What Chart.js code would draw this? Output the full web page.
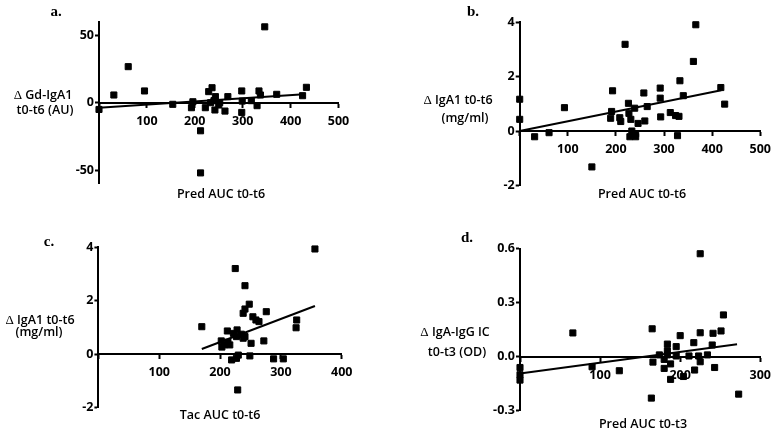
<!DOCTYPE html>
<html>
<head>
<meta charset="utf-8">
<script src="https://cdn.jsdelivr.net/npm/chart.js@4.4.0/dist/chart.umd.min.js"></script>
<style>
  body { margin: 0; background: #fff; }
  #wrap { position: relative; width: 778px; height: 433px; overflow: hidden; background: #fff; }
  canvas { position: absolute; left: 0; top: 0; }
  .lbl { position: absolute; transform: translate(-50%, -50%); font-family: "Liberation Serif", serif; font-weight: bold; font-size: 15px; color: #000; }
  .ttl { position: absolute; transform: translate(-50%, -50%); font-family: "Open Sans", sans-serif; font-weight: 600; font-size: 12.5px; color: #000; white-space: nowrap; line-height: 1; }
  .ttl span { font-family: "Liberation Serif", serif; font-weight: normal; font-size: 13px; }
</style>
</head>
<body>
<div id="wrap">
  <canvas id="ca" width="778" height="433"></canvas>
  <canvas id="cb" width="778" height="433"></canvas>
  <canvas id="cc" width="778" height="433"></canvas>
  <canvas id="cd" width="778" height="433"></canvas>

  <div class="lbl" style="left:56px;top:11px">a.</div>
  <div class="lbl" style="left:473px;top:11px">b.</div>
  <div class="lbl" style="left:49px;top:241px">c.</div>
  <div class="lbl" style="left:467px;top:237px">d.</div>

  <div class="ttl" style="left:43px;top:95px"><span>Δ</span> Gd-IgA1</div>
  <div class="ttl" style="left:45px;top:110px">t0-t6 (AU)</div>
  <div class="ttl" style="left:221px;top:194px">Pred AUC t0-t6</div>

  <div class="ttl" style="left:458px;top:100px"><span>Δ</span> IgA1 t0-t6</div>
  <div class="ttl" style="left:465px;top:118px">(mg/ml)</div>
  <div class="ttl" style="left:642px;top:194px">Pred AUC t0-t6</div>

  <div class="ttl" style="left:40px;top:320px"><span>Δ</span> IgA1 t0-t6</div>
  <div class="ttl" style="left:39px;top:332px">(mg/ml)</div>
  <div class="ttl" style="left:220px;top:415px">Tac AUC t0-t6</div>

  <div class="ttl" style="left:455px;top:332px"><span>Δ</span> IgA-IgG IC</div>
  <div class="ttl" style="left:457px;top:352px">t0-t3 (OD)</div>
  <div class="ttl" style="left:643px;top:424px">Pred AUC t0-t3</div>
</div>
<script>
// panel a: change in Gd-IgA1 vs prednisolone AUC
const predA = [0, 31, 61, 95, 154, 193, 196, 212, 212, 222, 229, 233, 236, 240, 242, 243, 250, 252, 263, 269, 298, 298, 299, 318, 330, 334, 337, 346, 371, 425, 433];
const gdIgA1 = [-5, 5.7, 26.7, 8.7, -1.2, -3.7, 0.7, -20.8, -52, -3.7, 8.2, 0, 11.1, 1.5, -5.4, 4.5, -1.7, 0, -6.2, 4.5, 8.7, -7.2, 1.2, 1.5, -2.2, 8.7, 5.7, 56.2, 6.2, 5.2, 11.4];
const fitAx = [0, 420];
const fitAy = [-3.7, 6];

// panel b: change in IgA1 vs prednisolone AUC
const predB = [0, 0, 31, 61, 93, 150, 189, 191, 193, 208, 210, 219, 226, 227, 229, 231, 233, 239, 241, 241, 246, 258, 260, 265, 292, 292, 293, 313, 324, 328, 331, 333, 340, 361, 366, 418, 426];
const igA1B = [1.17, 0.43, -0.21, -0.06, 0.86, -1.32, 0.47, 0.72, 1.48, 0.49, 0.35, 3.19, 1.02, 0.65, -0.21, 0.43, 0.0, 0.84, -0.21, -0.1, 0.28, 1.40, 0.37, 0.9, 1.58, 1.21, 0.52, 0.68, 0.57, -0.17, 0.54, 1.85, 1.30, 2.56, 3.91, 1.6, 0.99];
const fitBx = [0, 419];
const fitBy = [0, 1.5];

// panel c: change in IgA1 vs tacrolimus AUC
const tacC = [170, 202, 203, 207, 212, 213, 216, 219, 222, 225, 227, 227, 228, 229, 230, 235, 238, 238, 241, 241, 241, 248, 249, 251, 254, 259, 264, 272, 276, 288, 304, 325, 326, 356];
const igA1C = [1.03, 0.5, 0.27, 0.35, 0.87, 0.45, 0.35, -0.21, 0.78, 3.2, 0.66, -0.15, 0.91, -1.33, -0.03, 0.75, 1.53, 0.6, 2.56, 1.69, 0.66, 1.87, -0.06, 0.41, 1.40, 1.28, 1.22, 0.5, 1.59, -0.17, -0.17, 0.99, 1.28, 3.93];
const fitCx = [170, 356];
const fitCy = [0.2, 1.8];

// panel d: change in IgA-IgG IC vs prednisolone AUC t0-t3
const predD = [0, 0, 0, 66, 90, 124, 164, 165, 166, 174, 180, 180, 184, 184, 184, 188, 188, 195, 195, 200, 204, 211, 217, 218, 223, 225, 225, 225, 234, 240, 241, 243, 251, 254, 273];
const icD = [-0.06, -0.10, -0.13, 0.132, -0.056, -0.078, -0.23, 0.155, -0.03, 0.01, -0.015, -0.065, 0.07, 0.033, 0.01, -0.04, -0.126, 0.056, 0.004, 0.117, -0.11, 0.004, 0.078, -0.074, 0.004, 0.133, -0.028, 0.572, 0.01, 0.065, 0.13, -0.06, 0.143, 0.232, -0.208];
const fitDx = [0, 271];
const fitDy = [-0.093, 0.069];

const ticksX500 = [0, 100, 200, 300, 400, 500];
const ticksX400 = [0, 100, 200, 300, 400];
const ticksX300 = [0, 100, 200, 300];
const ticksYA = [-50, 0, 50];
const ticksYB = [-2, 0, 2, 4];
const ticksYD = [-0.3, 0, 0.3, 0.6];

const W = 778, H = 433, YW = 34;
const tickFont = { family: "Open Sans", weight: "bold", size: 12.5 };

const pairs = (xs, ys) => xs.map((x, i) => ({ x: x, y: ys[i] }));

function makePanel(id, o) {
  new Chart(document.getElementById(id), {
    type: "scatter",
    data: {
      datasets: [
        {
          data: pairs(o.xs, o.ys),
          pointStyle: "rect",
          pointRadius: 4.3,
          backgroundColor: "#000",
          borderColor: "#000",
          borderWidth: 1,
          clip: false,
        },
        {
          type: "line",
          data: pairs(o.fx, o.fy),
          showLine: true,
          borderColor: "#000",
          borderWidth: 2,
          pointRadius: 0,
          fill: false,
          clip: false,
        },
      ],
    },
    options: {
      responsive: false,
      animation: false,
      events: [],
      plugins: { legend: { display: false }, tooltip: { enabled: false } },
      layout: {
        padding: { left: o.l - YW, right: W - o.r, top: o.t, bottom: H - o.b },
      },
      scales: {
        x: {
          type: "linear",
          min: o.xmin, max: o.xmax,
          position: { y: 0 },
          afterFit: (s) => { s.height = 0; },
          afterBuildTicks: (s) => { s.ticks = o.xt.map((v) => ({ value: v })); },
          ticks: {
            callback: (v) => (v === 0 ? "" : v),
            font: tickFont, color: "#000", padding: 7, maxRotation: 0, autoSkip: false,
          },
          grid: { display: true, drawOnChartArea: false, drawTicks: true, tickLength: 4, tickWidth: 2, tickColor: "#000" },
          border: { color: "#000", width: 2 },
        },
        y: {
          type: "linear",
          min: o.ymin, max: o.ymax,
          afterFit: (s) => { s.width = YW; },
          afterBuildTicks: (s) => { s.ticks = o.yt.map((v) => ({ value: v })); },
          ticks: {
            callback: o.yfmt,
            font: tickFont, color: "#000", padding: 1, autoSkip: false,
          },
          grid: { display: true, drawOnChartArea: false, drawTicks: true, tickLength: 4, tickWidth: 2, tickColor: "#000" },
          border: { color: "#000", width: 2 },
        },
      },
    },
  });
}

makePanel("ca", {
  xs: predA, ys: gdIgA1, fx: fitAx, fy: fitAy,
  xmin: 0, xmax: 500, ymin: -60, ymax: 60, xt: ticksX500, yt: ticksYA,
  yfmt: (v) => v, l: 99, r: 338.5, t: 21.7, b: 183.7,
});
makePanel("cb", {
  xs: predB, ys: igA1B, fx: fitBx, fy: fitBy,
  xmin: 0, xmax: 500, ymin: -2, ymax: 4, xt: ticksX500, yt: ticksYB,
  yfmt: (v) => v, l: 519.7, r: 763.3, t: 22.3, b: 185.4,
});
makePanel("cc", {
  xs: tacC, ys: igA1C, fx: fitCx, fy: fitCy,
  xmin: 0, xmax: 400, ymin: -2, ymax: 4, xt: ticksX400, yt: ticksYB,
  yfmt: (v) => v, l: 98.4, r: 341.7, t: 247.1, b: 407.9,
});
makePanel("cd", {
  xs: predD, ys: icD, fx: fitDx, fy: fitDy,
  xmin: 0, xmax: 300, ymin: -0.3, ymax: 0.6, xt: ticksX300, yt: ticksYD,
  yfmt: (v) => v.toFixed(1), l: 520, r: 765, t: 248.7, b: 410.7,
});
</script>
</body>
</html>
